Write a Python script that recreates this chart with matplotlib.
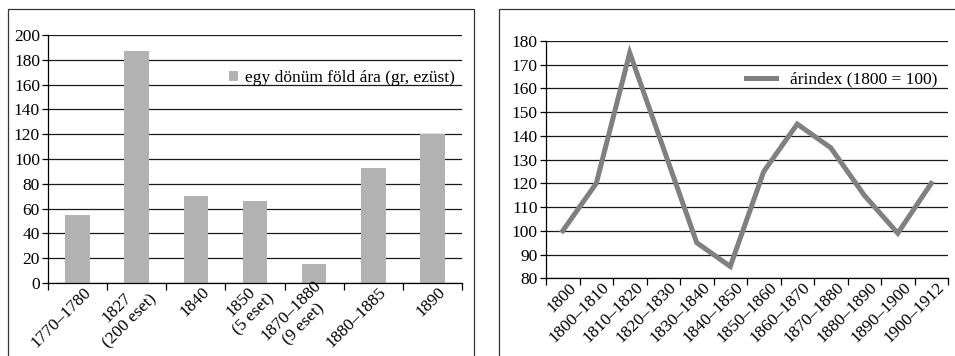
import numpy as np
import matplotlib
matplotlib.use('Agg')
import matplotlib.pyplot as plt
import matplotlib.transforms as mtransforms
from matplotlib.patches import Rectangle

plt.rcParams['font.family'] = ['Liberation Serif', 'DejaVu Serif']
plt.rcParams['font.size'] = 12.5

# ── Data ──────────────────────────────────────────────────────────────────────
land_labels = ['1770–1780', '1827\n(200 eset)', '1840', '1850\n(5 eset)',
               '1870–1880\n(9 eset)', '1880–1885', '1890']
land_price = [55, 187, 70, 66, 15, 93, 120]
land_legend = 'egy dönüm föld ára (gr, ezüst)'

index_labels = ['1800', '1800–1810', '1810–1820', '1820–1830', '1830–1840',
                '1840–1850', '1850–1860', '1860–1870', '1870–1880',
                '1880–1890', '1890–1900', '1900–1912']
price_index = [100, 120, 175, 135, 95, 85, 125, 145, 135, 115, 99, 120]
index_legend = 'árindex (1800 = 100)'

BAR = '#b2b2b2'
LINE = '#808080'
GRID = '#1a1a1a'
FS = 12.5
W, H = 955, 356

fig = plt.figure(figsize=(W / 100, H / 100), dpi=100, facecolor='white')

# panel frames
for x0, x1 in [(8, 474), (499, 1100)]:
    fig.add_artist(Rectangle((x0 / W, -0.2), (x1 - x0) / W, 1.2 - 9 / H,
                             transform=fig.transFigure, fill=False,
                             edgecolor='#333333', lw=0.9, clip_on=False))


def style(ax, n):
    ax.spines['top'].set_visible(False)
    ax.spines['right'].set_visible(False)
    for s in ('left', 'bottom'):
        ax.spines[s].set_color('black')
        ax.spines[s].set_linewidth(0.9)
    ax.yaxis.grid(True, color=GRID, lw=0.9)
    ax.set_axisbelow(True)
    ax.set_xlim(-0.5, n - 0.5)
    ax.set_xticks(np.arange(n + 1) - 0.5)
    ax.set_xticklabels([])
    ax.tick_params(axis='x', length=5, width=0.9, color='black')
    ax.tick_params(axis='y', length=4, width=0.9, color='black', pad=2,
                   labelsize=FS)


def put_labels(ax, labels, dx, dy):
    off = mtransforms.ScaledTranslation(dx / 100, dy / 100, fig.dpi_scale_trans)
    for i, lab in enumerate(labels):
        ax.text(i, 0, lab, transform=ax.get_xaxis_transform() + off,
                rotation=45, rotation_mode='anchor', ha='right', va='center',
                multialignment='center', fontsize=FS)


# ── Left: land price bars ─────────────────────────────────────────────────────
ax1 = fig.add_axes([48.3 / W, 1 - 283 / H, 413.4 / W, 248 / H])
x = np.arange(len(land_price))
ax1.bar(x, land_price, width=0.42, color=BAR, label=land_legend, zorder=2)
style(ax1, len(land_price))
ax1.set_ylim(0, 200)
ax1.set_yticks(np.arange(0, 201, 20))
put_labels(ax1, land_labels, 11, -7)
ax1.legend(loc='upper right', bbox_to_anchor=(1.0, 0.885), frameon=False,
           handlelength=0.5, handleheight=0.5, handletextpad=0.4,
           borderaxespad=0, fontsize=FS)

# ── Right: price index line ───────────────────────────────────────────────────
ax2 = fig.add_axes([546 / W, 1 - 278.3 / H, 402 / W, 237.3 / H])
x2 = np.arange(len(price_index))
ax2.plot(x2, price_index, color=LINE, lw=3.6, label=index_legend,
         solid_joinstyle='miter', zorder=3)
style(ax2, len(price_index))
ax2.set_ylim(80, 180)
ax2.set_yticks(np.arange(80, 181, 10))
put_labels(ax2, index_labels, 11, -7)
ax2.legend(loc='upper right', bbox_to_anchor=(0.99, 0.90), frameon=False,
           handlelength=1.7, handletextpad=0.8, borderaxespad=0, fontsize=FS)

fig.savefig('out.png', dpi=100, facecolor='white')
